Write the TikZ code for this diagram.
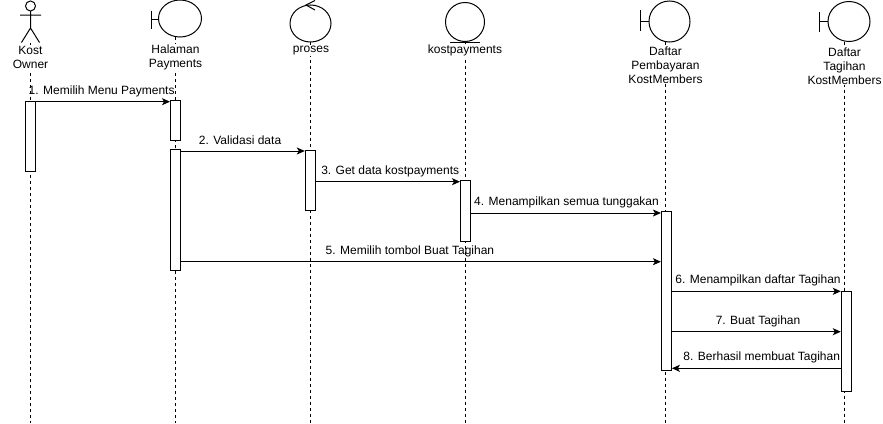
\documentclass[tikz,border=0pt]{standalone}
\usepackage{fontspec}
\setmainfont{Liberation Sans}
\usetikzlibrary{arrows.meta}
\begin{document}
\begin{tikzpicture}[x=1pt,y=-1pt,
  every node/.style={font=\fontsize{12}{14}\selectfont, text=black},
  life/.style={draw=black, line width=1pt, dash pattern=on 3pt off 3pt},
  act/.style={draw=black, fill=white, line width=1pt, minimum width=10pt, inner sep=0pt, rectangle},
  shp/.style={draw=black, line width=1pt},
  head/.style={fill=white, inner sep=1pt, align=center},
  msg/.style={draw=black, line width=1pt, -{Stealth[length=8pt,width=7pt,inset=2pt]}},
  msgl/.style={yshift=10.5pt, inner sep=0pt},
]
\useasboundingbox (0,0) rectangle (883,423);

% lifeline heads
% actor
\draw[shp] (30.5,6) circle[radius=5];
\draw[shp] (30.5,11) -- (30.5,28) (20,15) -- (41,15) (30.5,28) -- (21.5,42.5) (30.5,28) -- (39.5,42.5);
% boundary Halaman
\draw[shp] (151,10.5) -- (151,28.5) (151,19.5) -- (158.5,19.5);
\draw[shp] (180,18.5) ellipse[x radius=21.5, y radius=18.5];
% control proses
\draw[shp] (310.5,23.5) ellipse[x radius=20.5, y radius=18.5];
\draw[shp] (315,0.5) -- (306,5) -- (315,10);
% entity kostpayments
\draw[shp] (465,22) circle[radius=19.5];
\draw[shp] (450,42) -- (480,42);
% boundary Daftar Pembayaran
\draw[shp] (640.5,10) -- (640.5,31) (640.5,21) -- (649,21);
\draw[shp] (669.5,21.5) ellipse[x radius=20.5, y radius=20.5];
% boundary Daftar Tagihan
\draw[shp] (819.5,11.5) -- (819.5,31.5) (819.5,21.5) -- (828,21.5);
\draw[shp] (849,21.5) ellipse[x radius=21, y radius=20];

% lifelines
\coordinate (koT) at (30.5,42.5);  \coordinate (koB) at (30.5,423);
\coordinate (hpT) at (175.5,37);   \coordinate (hpB) at (175.5,423);
\coordinate (prT) at (310.5,42);   \coordinate (prB) at (310.5,423);
\coordinate (kpT) at (465,42);     \coordinate (kpB) at (465,423);
\coordinate (dpT) at (665.5,42);   \coordinate (dpB) at (665.5,423);
\coordinate (dtT) at (844.5,41.5); \coordinate (dtB) at (844.5,423);
\draw[life] (koT) -- (koB);
\draw[life] (hpT) -- (hpB);
\draw[life] (prT) -- (prB);
\draw[life] (kpT) -- (kpB);
\draw[life] (dpT) -- (dpB);
\draw[life] (dtT) -- (dtB);

% labels
\node[head] (koL) at (30.5,57.5) {Kost\\Owner};
\node[head] (hpL) at (175.5,57.5) {Halaman\\Payments};
\node[head] (prL) at (311,50.5) {proses};
\node[head] (kpL) at (465,50.5) {kostpayments};
\node[head] (dpL) at (665.5,65) {Daftar\\Pembayaran\\KostMembers};
\node[head] (dtL) at (844.5,66) {Daftar\\Tagihan\\KostMembers};

% activation boxes
\node[act, minimum height=70pt]    (ko1) at (30.5,136) {};
\node[act, minimum height=40pt]    (hp1) at (175.5,120) {};
\node[act, minimum height=120.5pt] (hp2) at (175.5,209.75) {};
\node[act, minimum height=60.7pt]  (pr1) at (310.3,180.6) {};
\node[act, minimum height=61pt]    (kp1) at (465.5,210.5) {};
\node[act, minimum height=159pt]   (dp1) at (666.4,290.5) {};
\node[act, minimum height=100pt]   (dt1) at (846.3,341) {};

% message rows
\coordinate (m1) at (0,101.7);
\coordinate (m2) at (0,151);
\coordinate (m3) at (0,181.7);
\coordinate (m4) at (0,213);
\coordinate (m5) at (0,261.7);
\coordinate (m6) at (0,291.3);
\coordinate (m7) at (0,331.7);
\coordinate (m8) at (0,368.3);

\draw[msg] (ko1.east |- m1) -- node[msgl, pos=0.49] {1. Memilih Menu Payments} (hp1.west |- m1);
\draw[msg] (hp2.east |- m2) -- node[msgl, pos=0.477] {2. Validasi data} (pr1.west |- m2);
\draw[msg] (pr1.east |- m3) -- node[msgl, pos=0.516] {3. Get data kostpayments} (kp1.west |- m3);
\draw[msg] (kp1.east |- m4) -- node[msgl, pos=0.503] {4. Menampilkan semua tunggakan} (dp1.west |- m4);
\draw[msg] (hp2.east |- m5) -- node[msgl, pos=0.477] {5. Memilih tombol Buat Tagihan} (dp1.west |- m5);
\draw[msg] (dp1.east |- m6) -- node[msgl, pos=0.51] {6. Menampilkan daftar Tagihan} (dt1.west |- m6);
\draw[msg] (dp1.east |- m7) -- node[msgl, pos=0.51] {7. Buat Tagihan} (dt1.west |- m7);
\draw[msg] (dt1.west |- m8) -- node[msgl, pos=0.468] {8. Berhasil membuat Tagihan} (dp1.east |- m8);
\end{tikzpicture}
\end{document}
